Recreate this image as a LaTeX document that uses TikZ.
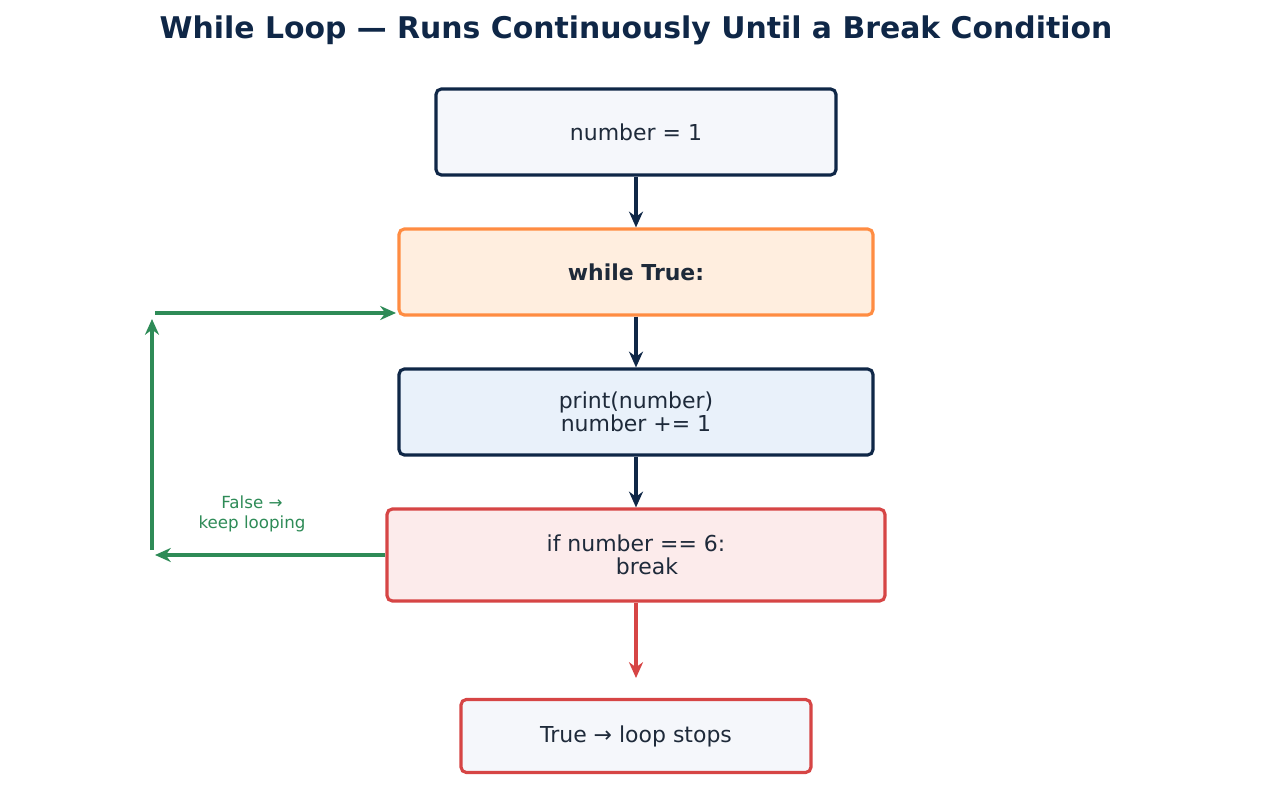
\documentclass[tikz,border=0pt]{standalone}
\usepackage{fontspec}
\setmainfont{DejaVu Sans}
\usetikzlibrary{arrows.meta,positioning}
\definecolor{navy}{HTML}{0F2747}
\definecolor{txt}{HTML}{1E2A3A}
\definecolor{orng}{HTML}{FF8C42}
\definecolor{redd}{HTML}{D64545}
\definecolor{grn}{HTML}{2E8B57}
\definecolor{fgray}{HTML}{F5F7FB}
\definecolor{forng}{HTML}{FFEEDF}
\definecolor{fblue}{HTML}{E9F1FA}
\definecolor{fred}{HTML}{FCEBEB}
\tikzset{
  stepbox/.style={draw=navy, line width=1.8pt, rounded corners=3pt, fill=fgray,
    text=txt, align=center, font=\fontsize{12.5}{13}\selectfont, inner sep=0pt},
  flow/.style={-{Stealth[length=9pt,width=8pt]}, line width=1.8pt},
}
\begin{document}
\begin{tikzpicture}[x=0.02cm,y=-0.02cm]
  \useasboundingbox (0,0) rectangle (1272,807);
  \node[font=\fontsize{17}{20}\selectfont\bfseries, text=navy] (title) at (636,30)
    {While Loop — Runs Continuously Until a Break Condition};

  \node[stepbox, minimum width=8cm, minimum height=1.72cm] (init) at (636,132) {number = 1};
  \node[stepbox, draw=orng, fill=forng, minimum width=9.48cm, minimum height=1.72cm,
    font=\fontsize{12.5}{13}\selectfont\bfseries] (loop) at (636,272) {while True:};
  \node[stepbox, fill=fblue, minimum width=9.48cm, minimum height=1.72cm] (body) at (636,412)
    {print(number)\\number += 1};
  \node[stepbox, draw=redd, fill=fred, minimum width=9.96cm, minimum height=1.84cm] (cond) at (636,555)
    {if number == 6:\\\quad break};
  \node[stepbox, draw=redd, minimum width=7cm, minimum height=1.46cm] (stop) at (636,736)
    {True → loop stops};

  % main flow
  \draw[flow, navy] (init) -- (loop);
  \draw[flow, navy] (loop) -- (body);
  \draw[flow, navy] (body) -- (cond);
  \coordinate (stopend) at (636,678);
  \draw[flow, redd] (cond) -- (stopend);

  % loop back
  \coordinate (c1) at (155,555);
  \coordinate (c2) at (152,550);
  \coordinate (c3) at (152,319);
  \coordinate (c4) at (155,313);
  \coordinate (c5) at (396,313);
  \draw[flow, grn] (cond.west) -- (c1);
  \draw[flow, grn] (c2) -- (c3);
  \draw[flow, grn] (c4) -- (c5);
  \node[text=grn, align=center, font=\fontsize{9.5}{11}\selectfont] (lbl) at (252,514)
    {False →\\keep looping};
\end{tikzpicture}
\end{document}
